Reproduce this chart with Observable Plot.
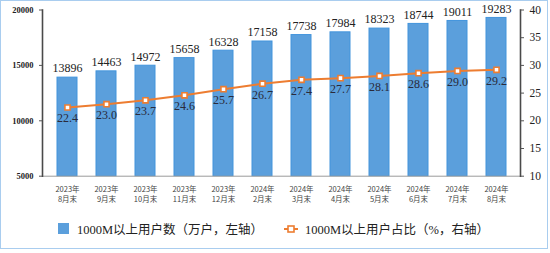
<!DOCTYPE html>
<html><head><meta charset="utf-8">
<script src="https://cdn.jsdelivr.net/npm/d3@7"></script>
<script src="https://cdn.jsdelivr.net/npm/@observablehq/plot@0.6"></script>
<style>
body{margin:0;background:#fff;}
#wrap{position:relative;width:550px;height:253px;overflow:hidden;}
#frame{position:absolute;left:0;top:0;width:546px;height:247px;border:1.5px solid #a9cdef;pointer-events:none;}
#chart{position:absolute;left:0;top:0;}
.leg{position:absolute;top:220px;font-family:"Liberation Serif","Noto Sans CJK SC",serif;font-size:12.5px;color:#222;display:flex;align-items:center;height:17px;white-space:nowrap;}
</style></head>
<body><div id="wrap"><div id="chart"></div>
<div class="leg" style="left:58px;"><span style="display:inline-block;width:11px;height:11px;background:#5b9fdc;margin-right:8px;"></span>1000M以上用户数（万户，左轴）</div>
<div class="leg" style="left:284px;"><svg width="14" height="10" style="margin-right:7px"><line x1="0" y1="5" x2="14" y2="5" stroke="#ed7d31" stroke-width="2"/><rect x="4" y="2" width="6" height="6" fill="#fff" stroke="#ed7d31" stroke-width="1.6"/></svg>1000M以上用户占比（%，右轴）</div>
<div id="frame"></div></div>
<script>
const categories = ["2023年\n8月末","2023年\n9月末","2023年\n10月末","2023年\n11月末","2023年\n12月末","2024年\n2月末","2024年\n3月末","2024年\n4月末","2024年\n5月末","2024年\n6月末","2024年\n7月末","2024年\n8月末"];
const users = [13896,14463,14972,15658,16328,17158,17738,17984,18323,18744,19011,19283];
const share = [22.4,23.0,23.7,24.6,25.7,26.7,27.4,27.7,28.1,28.6,29.0,29.2];
const leftTicks = [5000,10000,15000,20000];
const rightTicks = [10,15,20,25,30,35,40];

// right axis (10..40) mapped onto left scale (5000..20000)
const toLeft = v => 5000 + (v - 10) * 500;
const fromLeft = y => 10 + (y - 5000) / 500;

const barData = categories.map((c,i)=>({c, v: users[i]}));
const lineData = categories.map((c,i)=>({c, v: share[i], y: toLeft(share[i])}));

const serif = "Liberation Serif, Noto Sans CJK SC, serif";
const chart = Plot.plot({
  width: 550, height: 212,
  marginLeft: 42, marginRight: 30, marginTop: 9.5, marginBottom: 36.3,
  style: {fontFamily: serif, background: "transparent"},
  x: {domain: categories, paddingInner: 0.5, paddingOuter: 0.25},
  y: {domain: [5000, 20000]},
  marks: [
    Plot.barY(barData, {x: "c", y1: 5000, y2: "v", fill: "#5b9fdc", stroke: "#4294dc", strokeWidth: 1}),
    Plot.frame({anchor: "bottom", stroke: "#9a9a9a", strokeWidth: 1}),
    Plot.frame({anchor: "left", stroke: "#4a4a4a", strokeWidth: 1.6, strokeOpacity: 1}),
    Plot.frame({anchor: "right", stroke: "#4a4a4a", strokeWidth: 1.6, strokeOpacity: 1}),
    Plot.text(barData, {x: "c", y: "v", text: d => String(d.v), dy: -9, fontSize: 12, fill: "#222", fontFamily: serif}),
    Plot.line(lineData, {x: "c", y: "y", stroke: "#ed7d31", strokeWidth: 2}),
    Plot.dot(lineData, {x: "c", y: "y", symbol: "square", r: 2.9, fill: "#fff", stroke: "#ed7d31", strokeWidth: 1.6}),
    Plot.text(lineData, {x: "c", y: "y", text: d => d.v.toFixed(1), dy: 11, fontSize: 12, fill: "#2a2a3a", fontFamily: serif}),
    Plot.axisY({anchor: "left", ticks: leftTicks, tickFormat: d => String(d), tickSize: 3, tickPadding: 6, label: null, fontSize: 8.5, fontWeight: "bold", fill: "#222", stroke: "#555"}),
    Plot.axisY({anchor: "right", ticks: rightTicks.map(toLeft), tickFormat: d => String(Math.round(fromLeft(d))), tickSize: 3, tickPadding: 6, label: null, fontSize: 11.5, fill: "#222", stroke: "#555"}),
    Plot.axisX({tickSize: 0, tickPadding: 9, label: null, fontSize: 7.5, fill: "#444", fontFamily: "Noto Sans CJK SC, sans-serif", lineHeight: 1.3})
  ]
});
document.getElementById("chart").appendChild(chart);
</script></body></html>
